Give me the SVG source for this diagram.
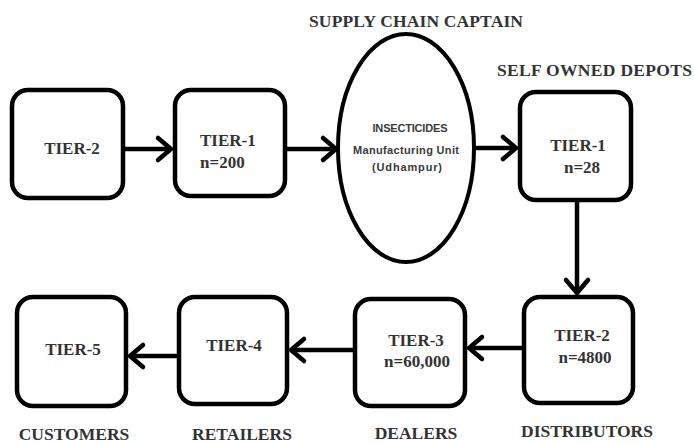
<svg xmlns="http://www.w3.org/2000/svg" width="694" height="443" viewBox="0 0 694 443">
<defs>
<style>
.box{fill:#fff;stroke:#000;stroke-width:4.5}
.ell{fill:#fff;stroke:#000;stroke-width:4}
.conn{stroke:#000;stroke-width:4.5;fill:none}
.t{font-family:"Liberation Serif","Times New Roman",serif;font-weight:bold;font-size:17px;fill:#333}
.lbl{font-family:"Liberation Serif","Times New Roman",serif;font-weight:bold;font-size:17.5px;fill:#333}
.s{font-family:"Liberation Sans",Arial,sans-serif;font-size:11px;font-weight:bold;fill:#3a3a3a;text-anchor:middle}
</style>
<marker id="ah" markerUnits="userSpaceOnUse" viewBox="-18 -16 22 32" markerWidth="22" markerHeight="32" refX="0" refY="0" orient="auto" overflow="visible">
<path d="M-13,-11 L0,0 L-13,11" fill="none" stroke="#000" stroke-width="4.5" stroke-linecap="round" stroke-linejoin="round"/>
</marker>
</defs>
<rect width="694" height="443" fill="#fff"/>

<g id="connectors">
<line class="conn" x1="122" y1="149" x2="171" y2="149" marker-end="url(#ah)"/>
<line class="conn" x1="287" y1="149" x2="336" y2="149" marker-end="url(#ah)"/>
<line class="conn" x1="475" y1="148" x2="516" y2="148" marker-end="url(#ah)"/>
<line class="conn" x1="577" y1="202" x2="577" y2="293" marker-end="url(#ah)"/>
<line class="conn" x1="522" y1="348" x2="469" y2="348" marker-end="url(#ah)"/>
<line class="conn" x1="353" y1="350" x2="291" y2="350" marker-end="url(#ah)"/>
<line class="conn" x1="177" y1="356" x2="130" y2="356" marker-end="url(#ah)"/>
</g>

<g id="captain-label"><text class="lbl" x="309" y="27" textLength="214">SUPPLY CHAIN CAPTAIN</text></g>
<g id="depots-label"><text class="lbl" x="497" y="76" textLength="195">SELF OWNED DEPOTS</text></g>

<g id="tier2-top">
<rect class="box" x="12" y="90" width="111" height="108" rx="16"/>
<text class="t" x="72" y="154" text-anchor="middle">TIER-2</text>
</g>
<g id="tier1-top">
<rect class="box" x="175" y="90" width="110" height="106" rx="16"/>
<text class="t" x="200" y="146">TIER-1</text>
<text class="t" x="200" y="168">n=200</text>
</g>
<g id="manufacturer">
<ellipse class="ell" cx="406" cy="148" rx="68" ry="114"/>
<text class="s" x="410" y="132" textLength="75">INSECTICIDES</text>
<text class="s" x="406" y="154" textLength="106">Manufacturing Unit</text>
<text class="s" x="407" y="171" textLength="70">(Udhampur)</text>
</g>
<g id="tier1-depots">
<rect class="box" x="520" y="92" width="111" height="108" rx="16"/>
<text class="t" x="578" y="151" text-anchor="middle">TIER-1</text>
<text class="t" x="582" y="173" text-anchor="middle">n=28</text>
</g>

<g id="tier2-distributors">
<rect class="box" x="524" y="297" width="109" height="106" rx="16"/>
<text class="t" x="582" y="341" text-anchor="middle">TIER-2</text>
<text class="t" x="585" y="363" text-anchor="middle">n=4800</text>
<text class="lbl" x="587" y="437" text-anchor="middle">DISTRIBUTORS</text>
</g>
<g id="tier3-dealers">
<rect class="box" x="355" y="299" width="110" height="107" rx="16"/>
<text class="t" x="416" y="346" text-anchor="middle">TIER-3</text>
<text class="t" x="417" y="367" text-anchor="middle">n=60,000</text>
<text class="lbl" x="416" y="439" text-anchor="middle">DEALERS</text>
</g>
<g id="tier4-retailers">
<rect class="box" x="179" y="297" width="108" height="107" rx="16"/>
<text class="t" x="234" y="351" text-anchor="middle">TIER-4</text>
<text class="lbl" x="242" y="440" text-anchor="middle">RETAILERS</text>
</g>
<g id="tier5-customers">
<rect class="box" x="17" y="297" width="109" height="109" rx="16"/>
<text class="t" x="73" y="355" text-anchor="middle">TIER-5</text>
<text class="lbl" x="74" y="440" text-anchor="middle">CUSTOMERS</text>
</g>
</svg>
